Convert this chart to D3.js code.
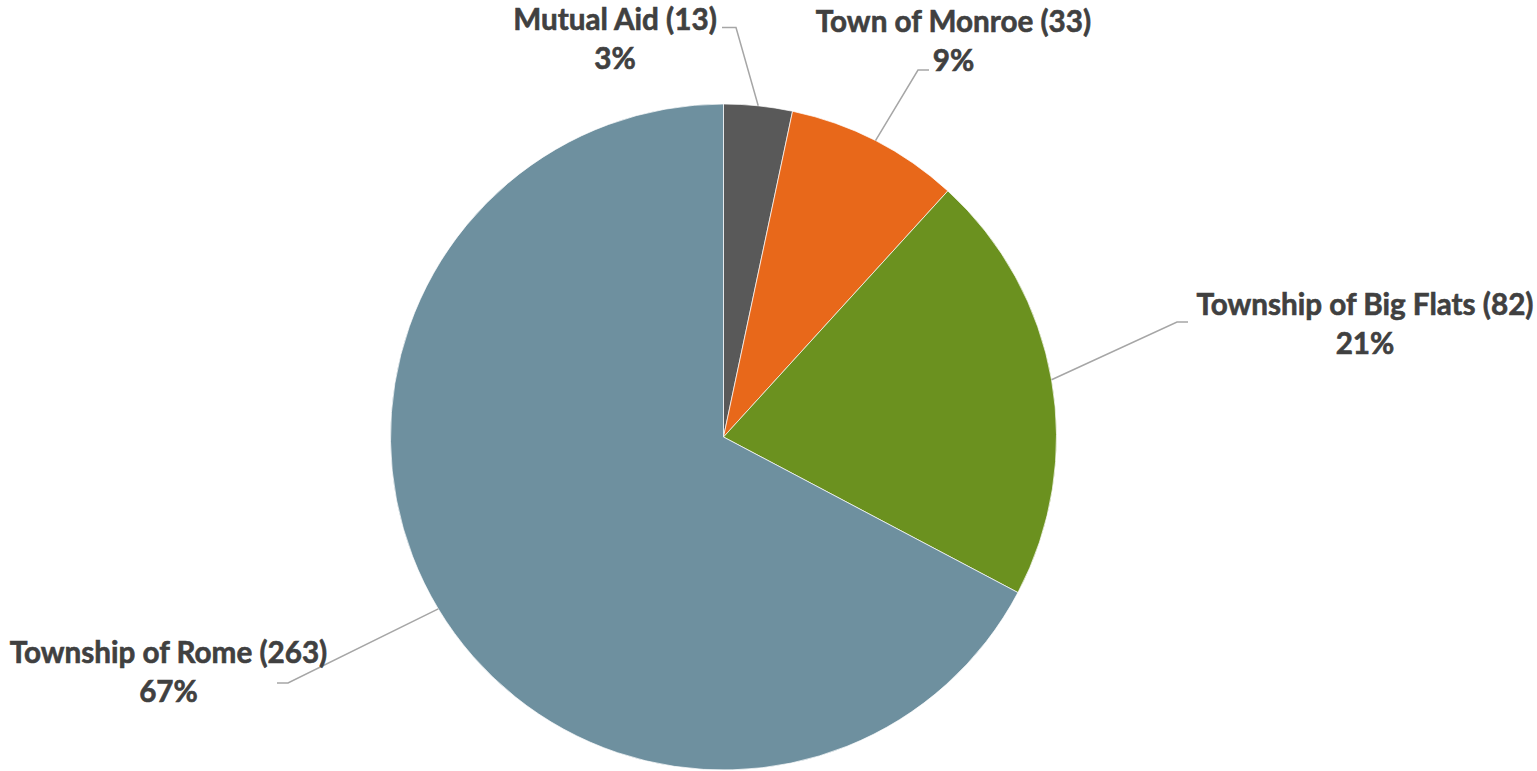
<!DOCTYPE html>
<html>
<head>
<meta charset="utf-8">
<script src="https://cdn.jsdelivr.net/npm/d3@7"></script>
<style>
  html, body { margin: 0; padding: 0; background: #fff; }
  svg { display: block; }
</style>
</head>
<body>
<svg id="chart" width="1537" height="771"></svg>
<script>
// ---- data ----
const categories = ["Mutual Aid", "Town of Monroe", "Township of Big Flats", "Township of Rome"];
const values = [13, 33, 82, 263];
const percentLabels = ["3%", "9%", "21%", "67%"];
const colors = ["#595959", "#E8681A", "#6B911F", "#6E909F"];

// ---- layout (label placement) ----
const W = 1537, H = 771;
const cx = 723.5, cy = 437, R = 333;
const labelLayout = [
  { tx: 615,    b1: 30,  elbow: [736, 27.5], end: [722, 27.5] },
  { tx: 953.5,  b1: 32,  elbow: [918, 70],   end: [929, 70] },
  { tx: 1365,   b1: 315, elbow: [1177, 322], end: [1188, 322] },
  { tx: 168.5,  b1: 663, elbow: [288, 683],  end: [277, 683] }
];
const lineGap = 39;
const targetWidths = [206, 277, 334, 317];

const svg = d3.select("#chart");
const data = categories.map((c, i) => ({ name: c, value: values[i], pct: percentLabels[i], color: colors[i], i }));

const pie = d3.pie().value(d => d.value).sort(null);
const arcs = pie(data);
const arc = d3.arc().innerRadius(0).outerRadius(R);

const g = svg.append("g").attr("transform", `translate(${cx},${cy})`);
g.selectAll("path.slice")
  .data(arcs)
  .enter().append("path")
  .attr("class", "slice")
  .attr("d", arc)
  .attr("fill", d => d.data.color)
  .attr("stroke", "#ffffff")
  .attr("stroke-width", 0.7);

// leader lines
const lines = svg.append("g");
arcs.forEach((a, i) => {
  const mid = (a.startAngle + a.endAngle) / 2;
  const px = cx + R * Math.sin(mid);
  const py = cy - R * Math.cos(mid);
  const L = labelLayout[i];
  lines.append("polyline")
    .attr("points", [[px, py], L.elbow, L.end].map(p => p.join(",")).join(" "))
    .attr("fill", "none")
    .attr("stroke", "#A6A6A6")
    .attr("stroke-width", 1.5);
});

// labels
const fontFamily = "Lato, 'Open Sans', sans-serif";
const labels = svg.append("g")
  .attr("font-family", fontFamily)
  .attr("font-weight", "bold")
  .attr("fill", "#404040")
  .attr("stroke", "#404040")
  .attr("stroke-width", 0.6)
  .attr("text-anchor", "middle");

arcs.forEach((a, i) => {
  const L = labelLayout[i];
  labels.append("text").attr("x", L.tx).attr("y", L.b1)
    .attr("font-size", 30).text(`${a.data.name} (${a.data.value})`);
  labels.append("text").attr("x", L.tx).attr("y", L.b1 + lineGap)
    .attr("font-size", 30).text(a.data.pct);
});
// fit font size to match label widths
let measured = 0;
labels.selectAll("text").filter((d, k) => k % 2 === 0).each(function () { measured += this.getComputedTextLength(); });
const totalTarget = d3.sum(targetWidths);
const fs = 30 * totalTarget / measured;
labels.selectAll("text").attr("font-size", fs);
</script>
</body>
</html>
